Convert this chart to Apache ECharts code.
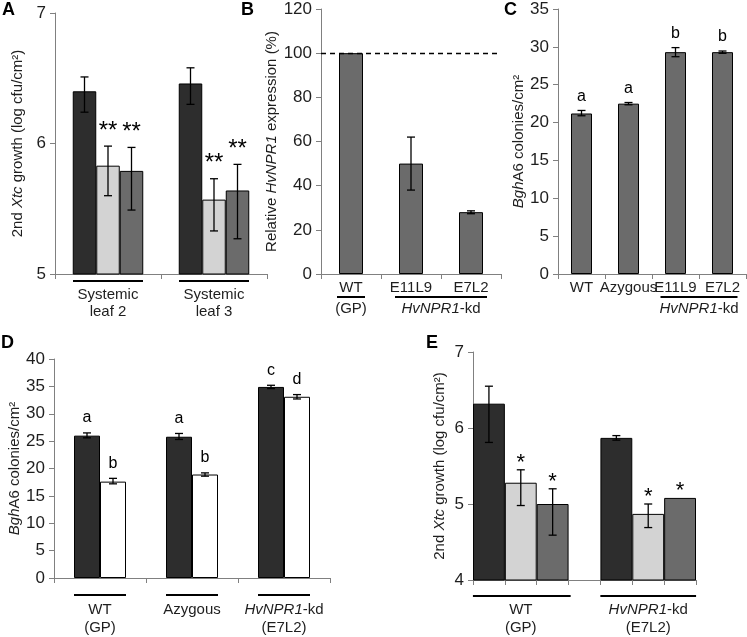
<!DOCTYPE html>
<html>
<head>
<meta charset="utf-8">
<script src="https://cdn.jsdelivr.net/npm/echarts@6/dist/echarts.min.js"></script>
<style>
  html, body { margin: 0; padding: 0; background: #fff; }
  #chart { width: 747px; height: 637px; }
</style>
</head>
<body>
<div id="chart"></div>
<script>
// ---- panel A: 2nd Xtc growth, systemic leaves
const aCats = ['Systemic\nleaf 2', 'Systemic\nleaf 3']
const aDark = [6.40, 6.46]
const aLight = [5.83, 5.57]
const aMid = [5.79, 5.64]
const aDarkErr = [[6.24, 6.51], [6.30, 6.58]]
const aLightErr = [[5.60, 5.98], [5.33, 5.73]]
const aMidErr = [[5.49, 5.97], [5.27, 5.84]]
const aLightSig = ['**', '**']
const aMidSig = ['**', '**']

// ---- panel B: relative HvNPR1 expression
const bCats = ['WT', 'E11L9', 'E7L2']
const bValues = [100, 50, 28]
const bErr = [null, [38, 62], [27.3, 28.6]]

// ---- panel C: BghA6 colonies
const cCats = ['WT', 'Azygous', 'E11L9', 'E7L2']
const cValues = [21.2, 22.5, 29.3, 29.3]
const cErr = [[20.9, 21.6], [22.35, 22.65], [28.7, 29.9], [29.15, 29.45]]
const cSig = ['a', 'a', 'b', 'b']

// ---- panel D: BghA6 colonies, dark vs white bars
const dCats = ['WT\n(GP)', 'Azygous', '{i|HvNPR1}-kd\n(E7L2)']
const dDark = [26.0, 25.8, 34.9]
const dWhite = [17.6, 18.9, 33.1]
const dDarkErr = [[25.6, 26.5], [25.3, 26.4], [34.6, 35.2]]
const dWhiteErr = [[17.2, 18.2], [18.6, 19.2], [32.7, 33.5]]
const dDarkSig = ['a', 'a', 'c']
const dWhiteSig = ['b', 'b', 'd']

// ---- panel E: 2nd Xtc growth, WT vs HvNPR1-kd
const eGroups = ['WT\n(GP)', '{i|HvNPR1}-kd\n(E7L2)']
const eWt = [6.32, 5.28, 5.00]
const eKd = [5.87, 4.87, 5.08]
const eWtErr = [[5.81, 6.55], [4.98, 5.45], [4.59, 5.20]]
const eKdErr = [[5.84, 5.90], [4.69, 5.00], null]
const eWtSig = ['', '*', '*']
const eKdSig = ['', '*', '*']

const FONT = 'Liberation Sans, Arial, Helvetica, sans-serif'
const INK = '#1e1e1e'
const AXIS = '#808080'
const DARK = '#2d2d2d'
const LIGHT = '#d3d3d3'
const MID = '#6b6b6b'
const WHITE = '#ffffff'
const ITALIC = { fontStyle: 'italic', fontSize: 15, color: INK, fontFamily: FONT }

function valueAxis(i, min, max, interval, name, gap) {
  return {
    type: 'value', gridIndex: i, min: min, max: max, interval: interval,
    name: name, nameLocation: 'middle', nameGap: gap,
    nameTextStyle: { fontSize: 15, color: INK, fontFamily: FONT, rich: { i: ITALIC } },
    axisLine: { show: true, lineStyle: { color: AXIS, width: 1 } },
    axisTick: { show: true, length: 5, lineStyle: { color: AXIS } },
    axisLabel: { fontSize: 17, color: INK, fontFamily: FONT, margin: 9 },
    splitLine: { show: false },
  }
}

function catAxis(i, data, margin, extra) {
  return Object.assign({
    type: 'category', gridIndex: i, data: data,
    axisLine: { show: true, lineStyle: { color: AXIS, width: 1 } },
    axisTick: { show: true, length: 5, lineStyle: { color: AXIS } },
    axisLabel: {
      fontSize: 15, color: INK, fontFamily: FONT, interval: 0, margin: margin,
      lineHeight: 17, rich: { i: Object.assign({ lineHeight: 18 }, ITALIC) },
    },
    splitLine: { show: false },
  }, extra || {})
}

function bars(i, data, color, width) {
  return {
    type: 'bar', xAxisIndex: i, yAxisIndex: i, data: data, barWidth: width, barGap: '0%',
    itemStyle: { color: color, borderColor: '#000', borderWidth: 1 },
    silent: true,
  }
}

// error bars + significance marks, drawn through the axis scales
function errSeries(i, slots, values, errs, sigs, offset, sig) {
  const rows = values.map(function (v, k) {
    const e = errs[k] || [v, v]
    return [slots[k], e[0], e[1]]
  })
  return {
    type: 'custom', xAxisIndex: i, yAxisIndex: i, z: 5, silent: true,
    encode: { x: 0, y: [1, 2] },
    data: rows,
    renderItem: function (params, api) {
      const k = params.dataIndex
      const x = api.coord([api.value(0), api.value(2)])[0] + offset
      const yLo = api.coord([api.value(0), api.value(1)])[1]
      const yHi = api.coord([api.value(0), api.value(2)])[1]
      const kids = []
      const s = { stroke: '#000', lineWidth: 1.3 }
      if (yLo - yHi > 0.5) {
        kids.push({ type: 'line', shape: { x1: x, y1: yLo, x2: x, y2: yHi }, style: s })
        kids.push({ type: 'line', shape: { x1: x - 4, y1: yHi, x2: x + 4, y2: yHi }, style: s })
        kids.push({ type: 'line', shape: { x1: x - 4, y1: yLo, x2: x + 4, y2: yLo }, style: s })
      }
      if (sigs && sigs[k]) {
        kids.push({
          type: 'text',
          style: {
            text: sigs[k], x: x, y: yHi - sig.gap, align: 'center', verticalAlign: 'bottom',
            fontSize: sig.size, fontFamily: FONT, fill: '#000',
          },
        })
      }
      return { type: 'group', children: kids }
    },
  }
}

const idx = function (arr) { return arr.map(function (_, k) { return k }) }

// panel E uses 7 slots: 3 bars, a gap, 3 bars
const eColors = [DARK, LIGHT, MID]
const eSlots = ['0', '1', '2', '3', '4', '5', '6']
const eData = eWt.map(function (v, k) { return { value: v, itemStyle: { color: eColors[k] } } })
  .concat(['-'])
  .concat(eKd.map(function (v, k) { return { value: v, itemStyle: { color: eColors[k] } } }))

const option = {
  animation: false,
  backgroundColor: '#fff',
  grid: [
    { left: 55, top: 13, width: 212, height: 261, outerBoundsMode: 'none' },
    { left: 321, top: 9, width: 180, height: 265, outerBoundsMode: 'none' },
    { left: 558, top: 9, width: 188, height: 265, outerBoundsMode: 'none' },
    { left: 54, top: 359, width: 276, height: 219, outerBoundsMode: 'none' },
    { left: 473, top: 352, width: 223, height: 228, outerBoundsMode: 'none' },
  ],
  xAxis: [
    catAxis(0, aCats, 12),
    catAxis(1, bCats, 5),
    catAxis(2, cCats, 5),
    catAxis(3, dCats, 23, { axisLabel: {
      fontSize: 15, color: INK, fontFamily: FONT, interval: 0, margin: 23, lineHeight: 18,
      rich: { i: Object.assign({ lineHeight: 18 }, ITALIC) },
    } }),
    catAxis(4, eSlots, 5, { axisLabel: { show: false } }),
  ],
  yAxis: [
    valueAxis(0, 5, 7, 1, '2nd {i|Xtc} growth (log cfu/cm²)', 30),
    valueAxis(1, 0, 120, 20, 'Relative {i|HvNPR1} expression (%)', 37),
    valueAxis(2, 0, 35, 5, '{i|Bgh}A6 colonies/cm²', 26),
    valueAxis(3, 0, 40, 5, '{i|Bgh}A6 colonies/cm²', 31),
    valueAxis(4, 4, 7, 1, '2nd {i|Xtc} growth (log cfu/cm²)', 26),
  ],
  series: [
    // A
    bars(0, aDark, DARK, 23.5),
    bars(0, aLight, LIGHT, 23.5),
    bars(0, aMid, MID, 23.5),
    errSeries(0, idx(aDark), aDark, aDarkErr, null, -23.5, null),
    errSeries(0, idx(aLight), aLight, aLightErr, aLightSig, 0, { gap: 3, size: 24 }),
    errSeries(0, idx(aMid), aMid, aMidErr, aMidSig, 23.5, { gap: 3, size: 24 }),
    // B
    Object.assign(bars(1, bValues, MID, 24), {
      markLine: {
        silent: true, symbol: 'none', label: { show: false },
        lineStyle: { color: '#000', width: 1.3, type: [5, 4] },
        data: [{ yAxis: 100 }],
      },
    }),
    errSeries(1, idx(bValues), bValues, bErr, null, 0, null),
    // C
    bars(2, cValues, MID, 21),
    errSeries(2, idx(cValues), cValues, cErr, cSig, 0, { gap: 6, size: 16 }),
    // D
    bars(3, dDark, DARK, 26),
    bars(3, dWhite, WHITE, 26),
    errSeries(3, idx(dDark), dDark, dDarkErr, dDarkSig, -13, { gap: 7, size: 16 }),
    errSeries(3, idx(dWhite), dWhite, dWhiteErr, dWhiteSig, 13, { gap: 7, size: 16 }),
    // E
    {
      type: 'bar', xAxisIndex: 4, yAxisIndex: 4, data: eData, barCategoryGap: '0%', silent: true,
      itemStyle: { borderColor: '#000', borderWidth: 1 },
    },
    errSeries(4, [0, 1, 2], eWt, eWtErr, eWtSig, 0, { gap: -4, size: 22 }),
    errSeries(4, [4, 5, 6], eKd, eKdErr, eKdSig, 0, { gap: -4, size: 22 }),
  ],
}

const chart = echarts.init(document.getElementById('chart'))
chart.setOption(option)

// group underlines, group labels and panel letters
const px = function (axis, cat) { return chart.convertToPixel({ xAxisIndex: axis }, cat) }
const rule = function (x1, x2, y) {
  return { type: 'line', silent: true, shape: { x1: x1, y1: y, x2: x2, y2: y }, style: { stroke: '#000', lineWidth: 2 } }
}
const label = function (text, x, y, vAlign) {
  return {
    type: 'text', silent: true, x: x, y: y,
    style: {
      text: text, align: 'center', verticalAlign: vAlign || 'middle', fontSize: 15, lineHeight: 18,
      fontFamily: FONT, fill: INK, rich: { i: Object.assign({ lineHeight: 18 }, ITALIC) },
    },
  }
}
const letter = function (text, x, y) {
  return {
    type: 'text', silent: true, x: x, y: y,
    style: { text: text, align: 'left', verticalAlign: 'top', fontSize: 18, fontWeight: 'bold', fontFamily: FONT, fill: '#000' },
  }
}

const g = []
// A
aCats.forEach(function (_, k) { g.push(rule(px(0, k) - 35, px(0, k) + 35, 281)) })
// B
g.push(rule(px(1, 0) - 14, px(1, 0) + 14, 297))
g.push(label('(GP)', px(1, 0), 309))
g.push(rule(px(1, 1) - 16, px(1, 2) + 16, 297))
g.push(label('{i|HvNPR1}-kd', (px(1, 1) + px(1, 2)) / 2, 309))
// C
g.push(rule(px(2, 2) - 15, px(2, 3) + 15, 297))
g.push(label('{i|HvNPR1}-kd', (px(2, 2) + px(2, 3)) / 2, 309))
// D
dCats.forEach(function (_, k) { g.push(rule(px(3, k) - 26, px(3, k) + 26, 595)) })
// E
g.push(rule(px(4, 0) - 16, px(4, 2) + 18, 596))
g.push(rule(px(4, 4) - 16, px(4, 6) + 16, 596))
g.push(label(eGroups[0], px(4, 1), 601, 'top'))
g.push(label(eGroups[1], px(4, 5), 601, 'top'))
// letters
g.push(letter('A', 2, 1))
g.push(letter('B', 241, 1))
g.push(letter('C', 504, 1))
g.push(letter('D', 1, 334))
g.push(letter('E', 426, 334))

chart.setOption({ graphic: g })
</script>
</body>
</html>
